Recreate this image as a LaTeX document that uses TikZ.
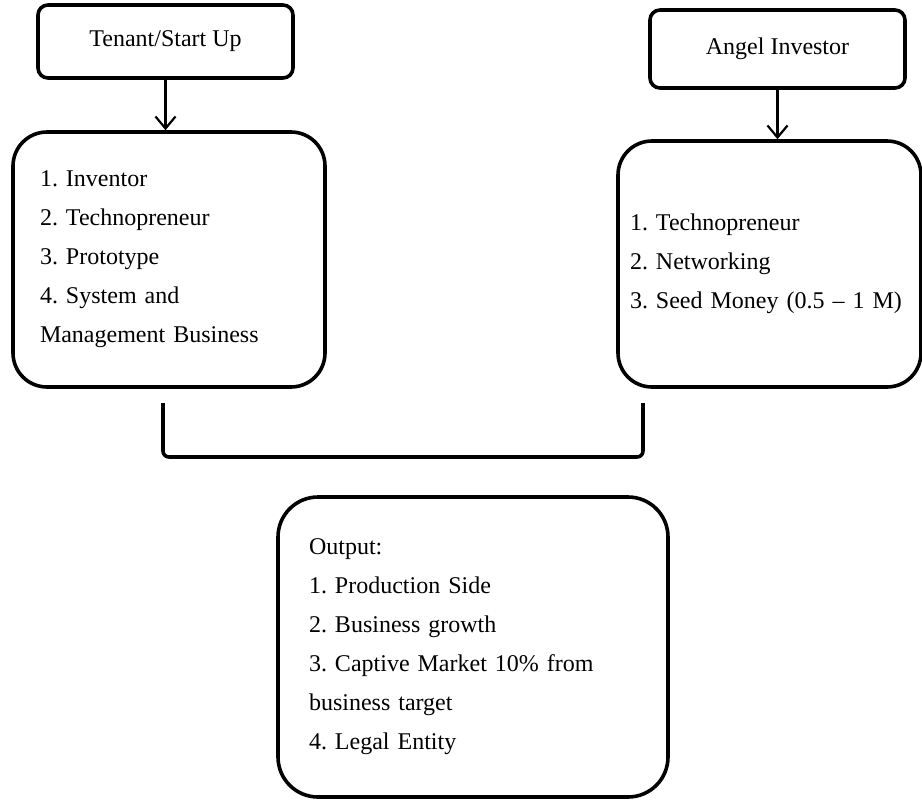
\documentclass[tikz,border=0pt]{standalone}
\usepackage{fontspec}
\setmainfont{Liberation Serif}
\usetikzlibrary{arrows.meta}
\frenchspacing
\tikzset{
    headbox/.style={
        draw, rounded corners=5pt, line width=1.8pt, minimum width=127.5pt,
        font=\fontsize{12}{14}\selectfont
    },
    listbox/.style={
        draw, rounded corners=17pt, line width=1.8pt, align=left,
        font=\fontsize{12}{19.5}\selectfont
    },
    ptr/.style={
        -{Straight Barb[length=6pt, width=10pt]}, line width=1.1pt
    },
    joinline/.style={
        line width=1.8pt, rounded corners=3pt
    }
}

\begin{document}
\begin{tikzpicture}[x=0.5pt, y=-0.5pt]
    \useasboundingbox (0,0) rectangle (922,799);

    % --- the two parties ---
    \node[headbox, minimum height=36.5pt] (tenant) at (165.5,41.5) {Tenant/Start Up};
    \node[headbox, minimum height=39pt] (angel) at (777.5,49) {Angel Investor};

    % --- what each party brings ---
    \node[listbox, text width=129pt, inner xsep=13.5pt, minimum height=127.5pt] (founder) at (169,259.5) {
        1. Inventor\\
        2. Technopreneur\\
        3. Prototype\\
        4. System and\\
        Management Business
    };
    \node[listbox, text width=139.5pt, inner xsep=6pt, minimum height=123pt] (investor) at (769.5,264) {
        1. Technopreneur\\
        2. Networking\\
        \mbox{3. Seed Money (0.5 -- 1 M)}
    };

    \draw[ptr] (tenant.south) -- (tenant.south |- founder.north);
    \draw[ptr] (angel.south) -- (angel.south |- investor.north);

    % bracket joining both sides
    \coordinate (joinleft) at (163,403);
    \coordinate (joinright) at (643,403);
    \coordinate (joinbase) at (403,457);
    \draw[joinline] (joinleft) |- (joinbase) -| (joinright);

    % --- result ---
    \node[listbox, rounded corners=20pt, text width=164pt, inner xsep=15.5pt, minimum height=150pt] (output) at (473,647) {
        Output:\\
        1. Production Side\\
        2. Business growth\\
        3. Captive Market 10\% from\\
        business target\\
        4. Legal Entity
    };
\end{tikzpicture}
\end{document}
